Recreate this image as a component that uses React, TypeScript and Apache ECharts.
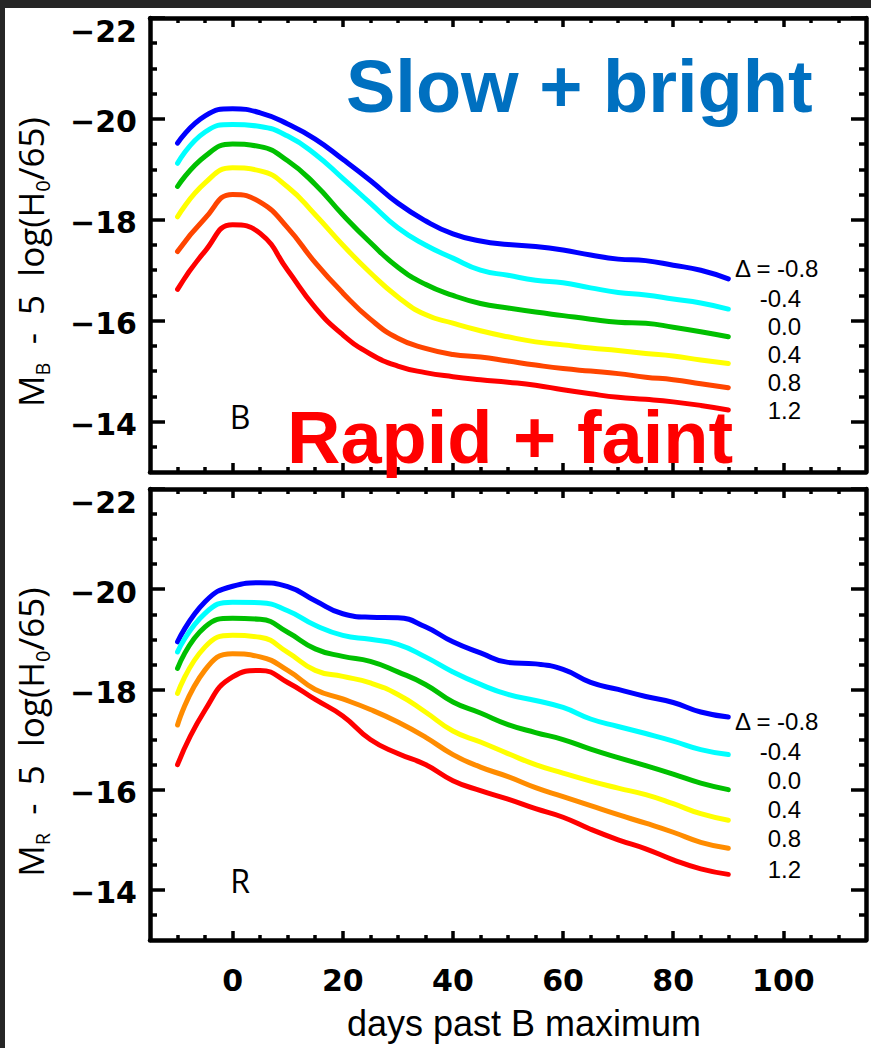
import React, { useEffect, useRef } from "react";
import * as echarts from "echarts";

const days = [-10, -5, 0, 5, 10, 15, 20, 25, 30, 35, 40, 45, 50, 55, 60, 65, 70, 75, 80, 85, 90];
const deltaLabels = ["Δ = -0.8", "-0.4", "0.0", "0.4", "0.8", "1.2"];

// B band (top panel)
const bBlue = [-19.52, -20.06, -20.2, -20.12, -19.9, -19.6, -19.2, -18.78, -18.33, -17.98, -17.72, -17.58, -17.51, -17.47, -17.4, -17.3, -17.22, -17.19, -17.1, -17.0, -16.83];
const bCyan = [-19.12, -19.74, -19.89, -19.85, -19.66, -19.3, -18.82, -18.33, -17.84, -17.5, -17.24, -17.0, -16.9, -16.8, -16.75, -16.65, -16.56, -16.51, -16.43, -16.35, -16.23];
const bGreen = [-18.66, -19.26, -19.5, -19.45, -19.17, -18.7, -18.1, -17.55, -17.06, -16.72, -16.5, -16.34, -16.25, -16.17, -16.1, -16.03, -15.97, -15.95, -15.87, -15.78, -15.68];
const bYellow = [-18.06, -18.73, -19.03, -18.97, -18.65, -18.1, -17.5, -16.95, -16.47, -16.12, -15.95, -15.8, -15.68, -15.58, -15.52, -15.46, -15.41, -15.35, -15.3, -15.22, -15.15];
const bOrange = [-17.37, -18.03, -18.5, -18.35, -17.84, -17.15, -16.55, -16.03, -15.65, -15.45, -15.33, -15.28, -15.2, -15.12, -15.05, -15.0, -14.95, -14.88, -14.83, -14.75, -14.67];
const bRed = [-16.62, -17.38, -17.9, -17.73, -17.0, -16.26, -15.72, -15.34, -15.1, -14.97, -14.89, -14.83, -14.78, -14.72, -14.63, -14.55, -14.48, -14.44, -14.39, -14.32, -14.23];

// R band (bottom panel)
const rBlue = [-18.95, -19.75, -20.06, -20.13, -20.05, -19.77, -19.51, -19.44, -19.43, -19.25, -18.95, -18.73, -18.54, -18.51, -18.4, -18.14, -18.0, -17.86, -17.74, -17.55, -17.45];
const rCyan = [-18.75, -19.52, -19.74, -19.73, -19.57, -19.28, -19.08, -19.0, -18.9, -18.65, -18.35, -18.1, -17.9, -17.78, -17.64, -17.41, -17.26, -17.12, -16.97, -16.8, -16.7];
const rGreen = [-18.42, -19.25, -19.42, -19.4, -19.14, -18.81, -18.66, -18.56, -18.35, -18.1, -17.75, -17.53, -17.3, -17.14, -17.0, -16.81, -16.64, -16.48, -16.31, -16.13, -16.0];
const rYellow = [-17.92, -18.85, -19.08, -19.04, -18.74, -18.38, -18.26, -18.13, -17.9, -17.55, -17.17, -16.95, -16.72, -16.5, -16.33, -16.17, -16.03, -15.9, -15.72, -15.52, -15.39];
const rOrange = [-17.29, -18.39, -18.71, -18.65, -18.38, -18.0, -17.81, -17.6, -17.35, -17.05, -16.7, -16.45, -16.26, -16.04, -15.86, -15.68, -15.5, -15.33, -15.15, -14.95, -14.83];
const rRed = [-16.5, -17.59, -18.25, -18.38, -18.14, -17.8, -17.47, -17.0, -16.72, -16.5, -16.18, -15.98, -15.81, -15.62, -15.45, -15.21, -15.0, -14.82, -14.6, -14.42, -14.31];

const xMajorTicks = [0, 20, 40, 60, 80, 100];
const xMinorTicks = [-10, -5, 5, 10, 15, 25, 30, 35, 45, 50, 55, 65, 70, 75, 85, 90, 95, 105, 110];
const yMajorTicks = [-22, -20, -18, -16, -14];
const yMinorTicks = [-21.5, -21, -20.5, -19.5, -19, -18.5, -17.5, -17, -16.5, -15.5, -15, -14.5, -13.5];

const topColors = ["#0000ff", "#00ffff", "#00c000", "#ffff00", "#ff4500", "#ff0000"];
const bottomColors = ["#0000ff", "#00ffff", "#00c000", "#ffff00", "#ff8c00", "#ff0000"];

const W = 871;
const H = 1048;
const TICK_COLOR = "#000";
const TICK_FONT = { fontFamily: "DejaVu Sans", fontWeight: "bold", fontSize: 30, color: "#000" };

function xAxes(gi: number, showLabels: boolean) {
  const base = { type: "value", gridIndex: gi, min: -15, max: 115, splitLine: { show: false } };
  const line = { show: true, onZero: false, lineStyle: { color: "#000", width: 4.5 } };
  const tickStyle = { color: TICK_COLOR, width: 3.5 };
  return [
    {
      ...base,
      position: "bottom",
      axisLine: line,
      axisTick: { show: true, inside: true, length: 9, customValues: xMajorTicks, lineStyle: tickStyle },
      axisLabel: { show: showLabels, customValues: xMajorTicks, margin: 25, ...TICK_FONT },
    },
    {
      ...base,
      position: "bottom",
      axisLine: { show: false, onZero: false },
      axisTick: { show: true, inside: true, length: 5, customValues: xMinorTicks, lineStyle: tickStyle },
      axisLabel: { show: false },
    },
    {
      ...base,
      position: "top",
      axisLine: line,
      axisTick: { show: true, inside: true, length: 9, customValues: xMajorTicks, lineStyle: tickStyle },
      axisLabel: { show: false },
    },
    {
      ...base,
      position: "top",
      axisLine: { show: false, onZero: false },
      axisTick: { show: true, inside: true, length: 5, customValues: xMinorTicks, lineStyle: tickStyle },
      axisLabel: { show: false },
    },
  ];
}

function yAxes(gi: number) {
  const base = { type: "value", gridIndex: gi, min: -22, max: -13, inverse: true, splitLine: { show: false } };
  const line = { show: true, onZero: false, lineStyle: { color: "#000", width: 4.5 } };
  const tickStyle = { color: TICK_COLOR, width: 3.5 };
  return [
    {
      ...base,
      position: "left",
      axisLine: line,
      axisTick: { show: true, inside: true, length: 15, customValues: yMajorTicks, lineStyle: tickStyle },
      axisLabel: {
        show: true,
        customValues: yMajorTicks,
        margin: 13,
        ...TICK_FONT,
        formatter: (v: number) => {
          const s = v < 0 ? "\u2212" + Math.abs(v) : String(v);
          return v === -22 ? `{e|${s}}` : `{n|${s}}`;
        },
        rich: {
          e: { ...TICK_FONT, padding: [26, 0, 0, 0] },
          n: { ...TICK_FONT, padding: [6, 0, 0, 0] },
        },
      },
    },
    {
      ...base,
      position: "left",
      axisLine: { show: false, onZero: false },
      axisTick: { show: true, inside: true, length: 7, customValues: yMinorTicks, lineStyle: tickStyle },
      axisLabel: { show: false },
    },
    {
      ...base,
      position: "right",
      axisLine: line,
      axisTick: { show: true, inside: true, length: 15, customValues: yMajorTicks, lineStyle: tickStyle },
      axisLabel: { show: false },
    },
    {
      ...base,
      position: "right",
      axisLine: { show: false, onZero: false },
      axisTick: { show: true, inside: true, length: 7, customValues: yMinorTicks, lineStyle: tickStyle },
      axisLabel: { show: false },
    },
  ];
}

function lineSeries(name: string, vals: number[], color: string, gi: number) {
  return {
    name,
    type: "line",
    xAxisIndex: gi * 4,
    yAxisIndex: gi * 4,
    data: days.map((d, i) => [d, vals[i]]),
    smooth: 0.5,
    showSymbol: false,
    symbol: "none",
    lineStyle: { color, width: 5, cap: "round" },
    z: 3,
  };
}

const LIGHT_FONT = "'Open Sans', Lato, sans-serif";
const LEGEND_FONT = "'Liberation Sans', Arial, sans-serif";

function titleText(x: number, y: number, sub: string) {
  return {
    type: "text",
    x,
    y,
    rotation: Math.PI / 2,
    z: 50,
    style: {
      text: `{a|M}{s|${sub}}{a|  -  5  log(H}{s|0}{a|/65)}`,
      align: "center",
      verticalAlign: "middle",
      rich: {
        a: { fontFamily: LIGHT_FONT, fontSize: 35, lineHeight: 44, fill: "#000", verticalAlign: "middle" },
        s: { fontFamily: LIGHT_FONT, fontSize: 20, lineHeight: 22, fill: "#000", verticalAlign: "bottom" },
      },
    },
  };
}

function deltaTexts(ys: number[]) {
  return deltaLabels.map((t, i) => ({
    type: "text",
    x: i === 0 ? 735 : 801,
    y: ys[i],
    z: 50,
    style: {
      text: t,
      align: i === 0 ? "left" : "right",
      verticalAlign: "middle",
      fontFamily: LEGEND_FONT,
      fontSize: 24,
      lineHeight: 24,
      fill: "#000",
    },
  }));
}

export default function App() {
  const ref = useRef<HTMLDivElement>(null);
  useEffect(() => {
    document.body.style.margin = "0";
    if (!ref.current) return;
    const chart = echarts.init(ref.current, undefined, { renderer: "svg" });
    const names = deltaLabels;
    const topVals = [bBlue, bCyan, bGreen, bYellow, bOrange, bRed];
    const botVals = [rBlue, rCyan, rGreen, rYellow, rOrange, rRed];
    const series = [
      ...topVals.map((v, i) => lineSeries("B " + names[i], v, topColors[i], 0)),
      ...botVals.map((v, i) => lineSeries("R " + names[i], v, bottomColors[i], 1)),
    ];
    chart.setOption({
      animation: false,
      backgroundColor: "#ffffff",
      grid: [
        { left: 150, right: W - 866, top: 18, height: 454 },
        { left: 150, right: W - 866, top: 489, height: 451 },
      ],
      xAxis: [...xAxes(0, false), ...xAxes(1, true)],
      yAxis: [...yAxes(0), ...yAxes(1)],
      series,
      graphic: [
        { type: "rect", z: 100, shape: { x: 0, y: 0, width: W, height: 8 }, style: { fill: "#262626" } },
        { type: "rect", z: 100, shape: { x: 0, y: 0, width: 5, height: H }, style: { fill: "#262626" } },
        titleText(30, 262, "B"),
        titleText(30, 732, "R"),
        {
          type: "text",
          x: 346,
          y: 86,
          z: 60,
          style: {
            text: "Slow + bright",
            align: "left",
            verticalAlign: "middle",
            fontFamily: "'Liberation Sans', Arial, sans-serif",
            fontWeight: "bold",
            fontSize: 74,
            fill: "#0070c0",
          },
        },
        {
          type: "text",
          x: 287,
          y: 437,
          z: 60,
          style: {
            text: "Rapid + faint",
            align: "left",
            verticalAlign: "middle",
            fontFamily: "'Liberation Sans', Arial, sans-serif",
            fontWeight: "bold",
            fontSize: 74,
            fill: "#ff0000",
          },
        },
        {
          type: "text",
          x: 240,
          y: 416,
          z: 50,
          style: { text: "B", align: "center", verticalAlign: "middle", fontFamily: LIGHT_FONT, fontSize: 32, fill: "#000" },
        },
        {
          type: "text",
          x: 240,
          y: 880,
          z: 50,
          style: { text: "R", align: "center", verticalAlign: "middle", fontFamily: LIGHT_FONT, fontSize: 32, fill: "#000" },
        },
        ...deltaTexts([268, 298, 326, 354, 382, 410]),
        ...deltaTexts([721, 751, 780, 809, 838, 869]),
        {
          type: "text",
          x: 524,
          y: 1023,
          z: 50,
          style: {
            text: "days past B maximum",
            align: "center",
            verticalAlign: "middle",
            fontFamily: LEGEND_FONT,
            fontSize: 36,
            lineHeight: 36,
            fill: "#000",
          },
        },
      ],
    });
    return () => chart.dispose();
  }, []);
  return <div ref={ref} style={{ width: W, height: H, background: "#fff" }} />;
}
